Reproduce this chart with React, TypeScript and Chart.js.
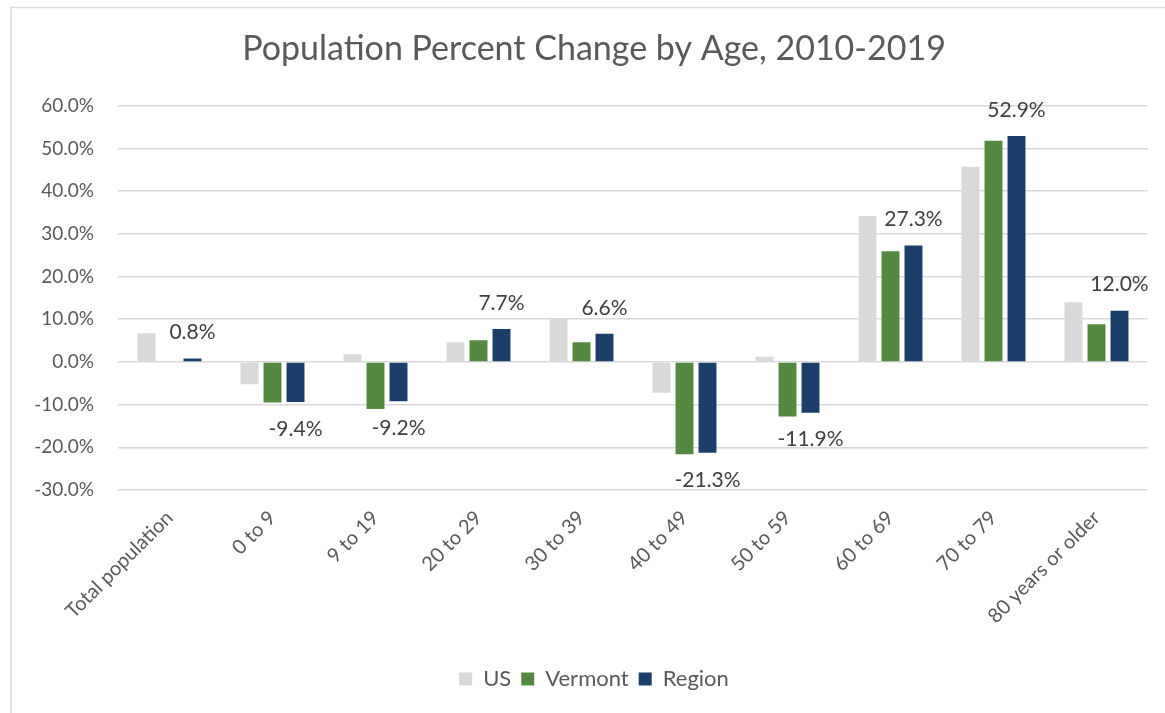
import React, { useEffect, useRef } from "react";
import { Chart, registerables } from "chart.js";

Chart.register(...registerables);

const categories = [
  "Total population",
  "0 to 9",
  "9 to 19",
  "20 to 29",
  "30 to 39",
  "40 to 49",
  "50 to 59",
  "60 to 69",
  "70 to 79",
  "80 years or older",
];
const seriesNames = ["US", "Vermont", "Region"];
const usValues = [6.7, -5.2, 1.8, 4.6, 10.0, -7.2, 1.2, 34.2, 45.7, 14.0];
const vermontValues = [-0.2, -9.5, -11.0, 5.1, 4.6, -21.6, -12.8, 25.9, 51.8, 8.8];
const regionValues = [0.8, -9.4, -9.2, 7.7, 6.6, -21.3, -11.9, 27.3, 52.9, 12.0];
const yMin = -30;
const yMax = 60;
const yStep = 10;

const FONT = "Lato, 'Open Sans', sans-serif";
const TEXT = "#595959";

const frame = {
  id: "frame",
  beforeDraw(chart: any) {
    const ctx = chart.ctx;
    ctx.save();
    ctx.fillStyle = "#ffffff";
    ctx.fillRect(0, 0, chart.width, chart.height);
    ctx.strokeStyle = "#d9d9d9";
    ctx.lineWidth = 1.5;
    ctx.beginPath();
    ctx.moveTo(11, chart.height);
    ctx.lineTo(11, 7.5);
    ctx.lineTo(chart.width, 7.5);
    ctx.stroke();
    ctx.restore();
  },
};

const regionLabels = {
  id: "regionLabels",
  afterDatasetsDraw(chart: any) {
    const ctx = chart.ctx;
    const meta = chart.getDatasetMeta(2);
    ctx.save();
    ctx.font = `21px ${FONT}`;
    ctx.fillStyle = "#404040";
    ctx.textAlign = "center";
    ctx.textBaseline = "middle";
    meta.data.forEach((el: any, i: number) => {
      const v = regionValues[i];
      const y = v >= 0 ? el.y - 26 : el.y + 27;
      ctx.fillText(v.toFixed(1) + "%", el.x, y);
    });
    ctx.restore();
  },
};

export default function App() {
  const ref = useRef<HTMLCanvasElement>(null);
  useEffect(() => {
    if (!ref.current) return;
    const chart = new Chart(ref.current, {
      type: "bar",
      data: {
        labels: categories,
        datasets: [
          { label: seriesNames[0], data: usValues, backgroundColor: "#d9d9d9" },
          { label: seriesNames[1], data: vermontValues, backgroundColor: "#548a3f" },
          { label: seriesNames[2], data: regionValues, backgroundColor: "#1b3f6b" },
        ],
      },
      options: {
        responsive: false,
        animation: false,
        devicePixelRatio: 1,
        layout: { padding: { left: 40, right: 17, top: 0, bottom: 13 } },
        datasets: {
          bar: { categoryPercentage: 0.67, barPercentage: 0.78 },
        },
        plugins: {
          title: {
            display: true,
            text: "Population Percent Change by Age, 2010-2019",
            color: TEXT,
            font: { family: FONT, size: 34, weight: "normal" },
            padding: { top: 29, bottom: 36 },
          },
          legend: {
            position: "bottom",
            labels: {
              color: TEXT,
              font: { family: FONT, size: 22 },
              boxWidth: 13,
              boxHeight: 13,
              padding: 10,
            },
          },
          tooltip: { enabled: false },
        },
        scales: {
          x: {
            grid: { display: false },
            border: { display: false },
            ticks: {
              color: TEXT,
              font: { family: FONT, size: 20 },
              minRotation: 45,
              maxRotation: 45,
              padding: 8,
            },
            afterFit(scale: any) {
              scale.height = 168;
            },
          },
          y: {
            min: yMin,
            max: yMax,
            grid: { color: "#d9d9d9", lineWidth: 1.5, drawTicks: false },
            border: { display: false },
            ticks: {
              stepSize: yStep,
              color: TEXT,
              font: { family: FONT, size: 19 },
              padding: 24,
              callback: (v: any) => Number(v).toFixed(1) + "%",
            },
            afterFit(scale: any) {
              scale.width = 78;
              scale._computeLabelArea = () => undefined;
            },
          },
        },
      },
      plugins: [frame, regionLabels],
    });
    return () => chart.destroy();
  }, []);
  return (
    <div style={{ position: "fixed", left: 0, top: 0, width: 1165, height: 713, background: "#fff" }}>
      <canvas ref={ref} width={1165} height={713} />
    </div>
  );
}
